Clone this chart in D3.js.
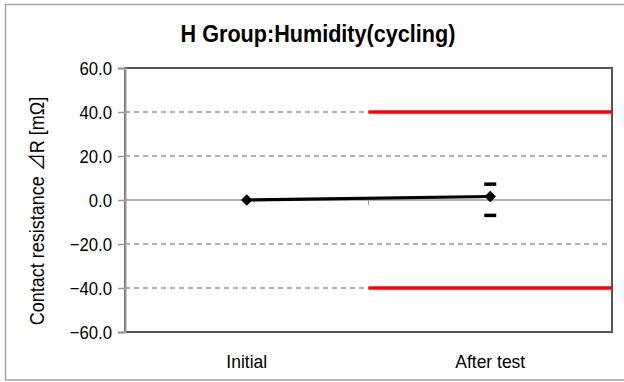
<!DOCTYPE html>
<html>
<head>
<meta charset="utf-8">
<script src="https://cdn.jsdelivr.net/npm/d3@7"></script>
<style>
  body { margin: 0; background: #fff; }
  text { font-family: "Liberation Sans", Arial, sans-serif; fill: #000; }
</style>
</head>
<body>
<svg width="624" height="382"></svg>
<script>
var categories = ["Initial", "After test"];
var meanValues = [0.0, 1.6];
var maxValues = [null, 7.2];
var minValues = [null, -7.0];
var limitValues = [40, -40];
var yTicks = [60, 40, 20, 0, -20, -40, -60];

var svg = d3.select("svg"),
    width = +svg.attr("width"),
    height = +svg.attr("height");

var margin = {top: 68, right: 12, bottom: 50, left: 125};

// squeeze text a bit, the original font is narrower than Liberation Sans
function condense(sel, k) {
  sel.each(function() {
    var len = this.getComputedTextLength();
    d3.select(this).attr("textLength", len * k).attr("lengthAdjust", "spacingAndGlyphs");
  });
}

// outer frame (right edge runs off the picture)
svg.append("rect")
    .attr("x", 5.5).attr("y", 4.5)
    .attr("width", width + 10).attr("height", 375.5)
    .attr("fill", "#fff")
    .attr("stroke", "#a6a6a6")
    .attr("stroke-width", 1.5);

var x = d3.scaleBand()
    .domain(categories)
    .range([margin.left, width - margin.right]);

var y = d3.scaleLinear()
    .domain([-60, 60])
    .range([height - margin.bottom, margin.top]);

// gridlines
svg.append("g")
    .selectAll("line")
    .data(yTicks.filter(function(d) { return d != 60 && d != -60 && d != 0; }))
    .enter().append("line")
    .attr("x1", margin.left).attr("x2", width - margin.right)
    .attr("y1", function(d) { return y(d); })
    .attr("y2", function(d) { return y(d); })
    .attr("stroke", "#999")
    .attr("stroke-width", 1.3)
    .attr("stroke-dasharray", "5,4");

// zero axis
var xAxis = svg.append("g")
    .attr("transform", "translate(0," + y(0) + ")");
xAxis.append("line")
    .attr("x1", margin.left).attr("x2", width - margin.right)
    .attr("stroke", "#9a9a9a").attr("stroke-width", 1.5);
xAxis.append("line")
    .attr("x1", x(categories[1])).attr("x2", x(categories[1]))
    .attr("y1", 0).attr("y2", 5)
    .attr("stroke", "#9a9a9a").attr("stroke-width", 1);

// plot border
svg.append("rect")
    .attr("x", margin.left).attr("y", margin.top)
    .attr("width", width - margin.left - margin.right)
    .attr("height", height - margin.top - margin.bottom)
    .attr("fill", "none")
    .attr("stroke", "#555")
    .attr("stroke-width", 2);

// y axis
var yAxis = svg.append("g")
    .attr("transform", "translate(" + margin.left + ",0)")
    .call(d3.axisLeft(y).tickValues(yTicks).tickSize(7).tickPadding(6)
        .tickFormat(d3.format(".1f")));
yAxis.select(".domain").attr("stroke", "#999").attr("stroke-width", 2);
yAxis.selectAll(".tick line").attr("stroke", "#999").attr("stroke-width", 1.5);
yAxis.selectAll("text")
    .style("font-size", "19px")
    .style("font-family", "Liberation Sans, Arial, sans-serif")
    .attr("fill", "#000")
    .attr("dy", "0.36em")
    .call(condense, 0.88);

// category labels
svg.append("g").selectAll("text")
    .data(categories)
    .enter().append("text")
    .attr("x", function(d) { return x(d) + x.bandwidth() / 2; })
    .attr("y", 368)
    .attr("text-anchor", "middle")
    .style("font-size", "19px")
    .text(function(d) { return d; })
    .call(condense, 0.92);

// limit lines
svg.append("g").selectAll("line")
    .data(limitValues)
    .enter().append("line")
    .attr("x1", x(categories[1])).attr("x2", width - margin.right)
    .attr("y1", function(d) { return y(d); })
    .attr("y2", function(d) { return y(d); })
    .attr("stroke", "#ff0000")
    .attr("stroke-width", 3.5);

// mean line
var pts = categories.map(function(c, i) {
  return {cat: c, mean: meanValues[i], max: maxValues[i], min: minValues[i]};
});

svg.append("path")
    .datum(pts)
    .attr("fill", "none")
    .attr("stroke", "#000")
    .attr("stroke-width", 3.2)
    .attr("d", d3.line()
        .x(function(d) { return x(d.cat) + x.bandwidth() / 2; })
        .y(function(d) { return y(d.mean); }));

svg.append("g").selectAll("path")
    .data(pts)
    .enter().append("path")
    .attr("transform", function(d) {
      return "translate(" + (x(d.cat) + x.bandwidth() / 2) + "," + y(d.mean) + ")";
    })
    .attr("d", d3.symbol().type(d3.symbolDiamond2).size(85))
    .attr("fill", "#000");

// max/min dashes
var ends = [];
pts.forEach(function(d) {
  if (d.max != null) ends.push({cat: d.cat, v: d.max});
  if (d.min != null) ends.push({cat: d.cat, v: d.min});
});
svg.append("g").selectAll("line")
    .data(ends)
    .enter().append("line")
    .attr("x1", function(d) { return x(d.cat) + x.bandwidth() / 2 - 6; })
    .attr("x2", function(d) { return x(d.cat) + x.bandwidth() / 2 + 6; })
    .attr("y1", function(d) { return y(d.v); })
    .attr("y2", function(d) { return y(d.v); })
    .attr("stroke", "#000")
    .attr("stroke-width", 3.5);

// title
svg.append("text")
    .attr("x", 318).attr("y", 42)
    .attr("text-anchor", "middle")
    .style("font-size", "24px")
    .style("font-weight", "bold")
    .text("H Group:Humidity(cycling)")
    .call(condense, 0.9);

// y axis title, the triangle comes from the CJK font like in the original
var yTitle = svg.append("text")
    .attr("transform", "translate(44,211) rotate(-90)")
    .attr("text-anchor", "middle")
    .style("font-size", "20px");
yTitle.append("tspan").text("Contact resistance ");
yTitle.append("tspan").style("font-family", "'Noto Sans CJK JP'").text("\u22BF");
yTitle.append("tspan").text("R [m\u03A9]");
yTitle.call(condense, 0.9);
</script>
</body>
</html>
